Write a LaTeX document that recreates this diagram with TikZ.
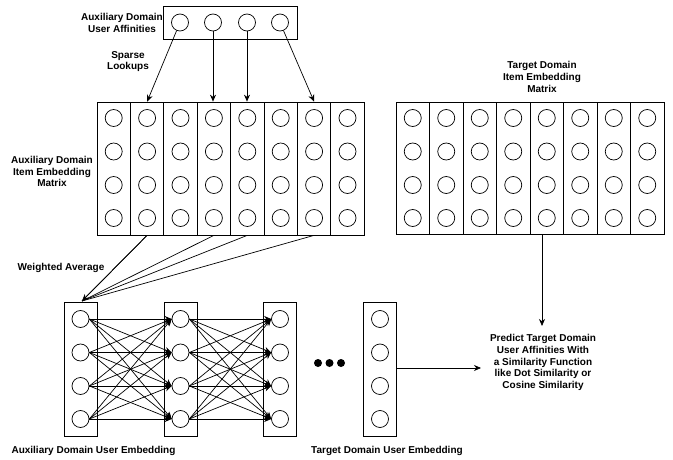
\documentclass[tikz,border=0pt]{standalone}
\usepackage{fontspec}
\setmainfont{Liberation Sans}
\usetikzlibrary{arrows.meta}
\begin{document}
\begin{tikzpicture}[x=1pt,y=-1pt,
  lbl/.style={font=\fontsize{10}{11.7}\selectfont\bfseries, align=center, inner sep=0pt},
  circ/.style={circle, draw, line width=0.7pt, minimum size=17pt, inner sep=0pt},
  colbox/.style={rectangle, draw, line width=0.7pt, inner sep=0pt},
  arr/.style={line width=0.7pt, -{Stealth[length=7pt,width=6pt]}},
  dot/.style={circle, fill, minimum size=8pt, inner sep=0pt}]
\useasboundingbox (0,0) rectangle (673,460);

% top affinities box
\node[colbox, minimum width=134pt, minimum height=33pt] (topbox) at (230,22.5) {};
\foreach \k/\x in {1/180,2/213,3/247,4/280}
  \node[circ] (t\k) at (\x,22.5) {};
\node[lbl] (lblaff) at (122,23) {Auxiliary Domain\\User Affinities};
\node[lbl] (lblsparse) at (128,61.5) {Sparse\\Lookups};

% auxiliary item embedding matrix
\foreach \i in {1,...,8}{
  \node[colbox, minimum width=33.4pt, minimum height=133pt] (ac\i) at ({97+33.4*(\i-0.5)},168.5) {};
  \foreach \j/\y in {1/118,2/151.5,3/185,4/218}
    \node[circ] (a\i-\j) at ({97+33.4*(\i-0.5)},\y) {};
}
\node[lbl] (lblaux) at (52,171.5) {Auxiliary Domain\\Item Embedding\\Matrix};

% target item embedding matrix
\foreach \i in {1,...,8}{
  \node[colbox, minimum width=33.5pt, minimum height=132pt] (tc\i) at ({396+33.5*(\i-0.5)},168) {};
  \foreach \j/\y in {1/118,2/151.5,3/185,4/218}
    \node[circ] (g\i-\j) at ({396+33.5*(\i-0.5)},\y) {};
}
\node[lbl] (lbltgt) at (542,77) {Target Domain\\Item Embedding\\Matrix};

% sparse lookups
\draw[arr] (t1) -- (ac2.north);
\draw[arr] (t2) -- (ac4.north -| t2);
\draw[arr] (t3) -- (ac5.north -| t3);
\draw[arr] (t4) -- (ac7.north);

% user embedding layers
\foreach \L/\x in {1/80.5,2/180.5,3/280,4/380}{
  \node[colbox, minimum width=33pt, minimum height=134pt] (b\L) at (\x,369) {};
  \foreach \j/\y in {1/319,2/352.5,3/386,4/419}
    \node[circ] (n\L-\j) at (\x,\y) {};
}

% weighted average
\coordinate (wa) at (82,301);
\foreach \i in {2,4,5,7}
  \draw[line width=0.7pt] (ac\i.south) -- (wa);
\draw[arr] (ac2.south) -- (wa);
\node[lbl] (lblwa) at (61,268) {Weighted Average};

% fully connected
\foreach \L/\M in {1/2,2/3}
  \foreach \j in {1,...,4}
    \foreach \k in {1,...,4}
      \draw[arr] (n\L-\j.east) -- (n\M-\k.west);

% dots
\foreach \k/\x in {1/318,2/329.5,3/341}
  \node[dot] (d\k) at (\x,363) {};

% labels bottom
\node[lbl] (lblaue) at (93.5,451) {Auxiliary Domain User Embedding};
\node[lbl] (lbltue) at (387,451) {Target Domain User Embedding};

% prediction
\node[lbl] (pred) at (543,362.5) {Predict Target Domain\\User Affinities With\\a Similarity Function\\like Dot Similarity or\\Cosine Similarity};
\coordinate (tbot) at (542,234);
\coordinate (ptop) at (542,326);
\draw[arr] (tbot) -- (ptop);
\coordinate (pleft) at (481,368);
\draw[arr] (b4.east |- pleft) -- (pleft);
\end{tikzpicture}
\end{document}
